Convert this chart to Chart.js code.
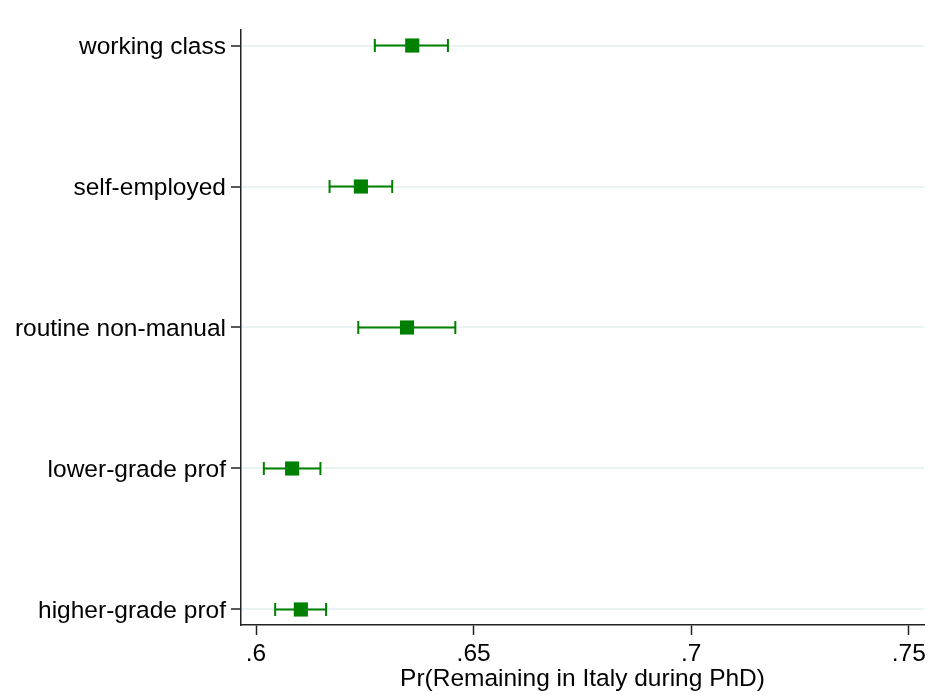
<!DOCTYPE html>
<html>
<head>
<meta charset="utf-8">
<script src="https://cdn.jsdelivr.net/npm/chart.js@4/dist/chart.umd.min.js"></script>
<style>
  html, body { margin: 0; padding: 0; background: #fff; }
  #wrap { width: 935px; height: 695px; }
</style>
</head>
<body>
<div id="wrap"><canvas id="myChart" width="935" height="695"></canvas></div>
<script>
var categories = ["working class", "self-employed", "routine non-manual", "lower-grade prof", "higher-grade prof"];
var estimates = [0.6359, 0.6241, 0.6347, 0.6083, 0.6103];
var ciLow = [0.6273, 0.6169, 0.6235, 0.6018, 0.6044];
var ciHigh = [0.6441, 0.6313, 0.6458, 0.6148, 0.6161];
var xTicks = [0.6, 0.65, 0.7, 0.75];
var xTickLabels = [".6", ".65", ".7", ".75"];

var green = 'rgb(0,128,0)';
var font = { family: "'Liberation Sans', Arial, sans-serif", size: 24.5 };

var points = categories.map((c, i) => ({ x: estimates[i], y: i }));

// draws the confidence interval bars with caps
var ciBars = {
  id: 'ciBars',
  beforeDatasetsDraw: function(chart) {
    var ctx = chart.ctx;
    var xs = chart.scales.x, ys = chart.scales.y;
    ctx.save();
    ctx.strokeStyle = green;
    ctx.lineWidth = 2;
    categories.forEach(function(c, i) {
      var y = ys.getPixelForValue(i);
      var x0 = xs.getPixelForValue(ciLow[i]);
      var x1 = xs.getPixelForValue(ciHigh[i]);
      ctx.beginPath();
      ctx.moveTo(x0, y); ctx.lineTo(x1, y);
      ctx.moveTo(x0, y - 6.5); ctx.lineTo(x0, y + 6.5);
      ctx.moveTo(x1, y - 6.5); ctx.lineTo(x1, y + 6.5);
      ctx.stroke();
    });
    ctx.restore();
  }
};

var config = {
  type: 'scatter',
  data: {
    datasets: [{
      label: 'Pr',
      data: points,
      pointStyle: 'rect',
      pointRadius: 10,
      pointHoverRadius: 10,
      backgroundColor: green,
      borderWidth: 0
    }]
  },
  options: {
    responsive: false,
    animation: false,
    layout: { padding: { top: 30, right: 11, left: 0, bottom: 0 } },
    plugins: { legend: { display: false }, tooltip: { enabled: false } },
    scales: {
      x: {
        type: 'linear',
        min: 0.59655,
        max: 0.7535,
        afterBuildTicks: function(scale) {
          scale.ticks = xTicks.map(v => ({ value: v }));
        },
        afterFit: function(scale) { scale.height = 70; },
        ticks: {
          color: '#000',
          font: font,
          padding: 5,
          maxRotation: 0,
          callback: function(v, i) { return xTickLabels[i]; }
        },
        grid: {
          drawOnChartArea: false,
          tickColor: '#222',
          tickLength: 10,
          tickWidth: 1.5
        },
        border: { display: true, color: '#222', width: 1.5 },
        title: {
          display: true,
          text: 'Pr(Remaining in Italy during PhD)',
          color: '#000',
          font: font,
          padding: { top: 0, bottom: 1 }
        }
      },
      y: {
        type: 'linear',
        reverse: true,
        min: -0.11,
        max: 4.11,
        afterBuildTicks: function(scale) {
          scale.ticks = categories.map((c, i) => ({ value: i }));
        },
        afterFit: function(scale) { scale.width = 241; },
        ticks: {
          color: '#000',
          font: font,
          padding: 5,
          labelOffset: 2,
          callback: function(v) { return categories[v]; }
        },
        grid: {
          color: 'rgb(234,242,243)',
          lineWidth: 2,
          tickColor: '#222',
          tickLength: 10,
          tickWidth: 1.5
        },
        border: { display: true, color: '#222', width: 1.5 }
      }
    }
  },
  plugins: [ciBars]
};

var ctx = document.getElementById('myChart').getContext('2d');
var chart = new Chart(ctx, config);
</script>
</body>
</html>
